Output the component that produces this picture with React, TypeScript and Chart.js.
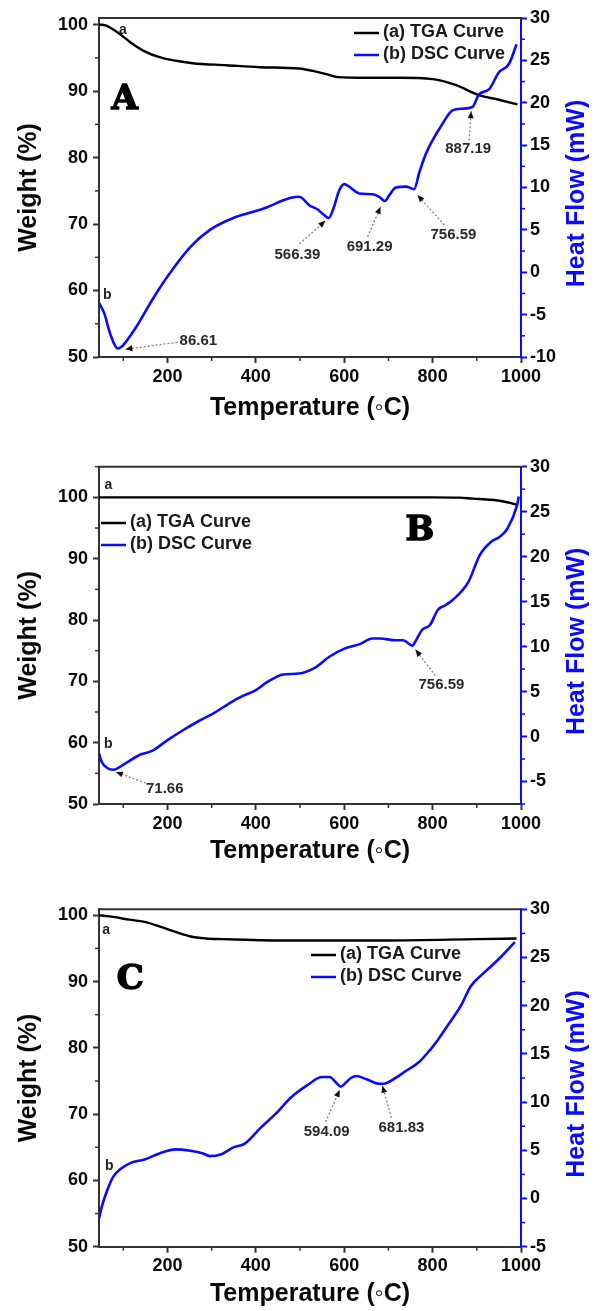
import React, { useEffect, useRef } from 'react';
import { Chart, registerables } from 'chart.js';

Chart.register(...registerables);

// ---------------- Panel A ----------------
const tgaTempA = [45, 60, 69, 92, 115, 145, 182, 257, 333, 408, 497, 532, 567, 585, 650, 725, 800, 853, 905, 950, 992];
const tgaWeightA = [100, 99.9, 99.6, 98.6, 97.4, 96.1, 95.1, 94.2, 93.9, 93.6, 93.4, 93.0, 92.4, 92.1, 92.0, 92.0, 91.8, 90.9, 89.4, 88.7, 88.0];
const dscTempA = [45, 58, 68, 78, 87, 96, 106, 130, 165, 200, 252, 296, 349, 392, 427, 462, 480, 498, 521, 540, 551, 565, 574, 589, 600, 611, 634, 664, 679, 692, 702, 717, 740, 758, 770, 785, 796, 822, 845, 867, 890, 905, 928, 950, 973, 990];
const dscFlowA = [-3.6, -5.0, -6.9, -8.3, -9.0, -8.8, -8.2, -6.4, -3.3, -0.5, 3.0, 5.0, 6.4, 7.1, 7.7, 8.5, 8.8, 8.9, 7.9, 7.4, 6.9, 6.4, 7.3, 9.7, 10.4, 10.1, 9.3, 9.2, 8.9, 8.4, 9.1, 10.0, 10.1, 9.8, 11.8, 14.0, 15.2, 17.5, 19.1, 19.3, 19.5, 21.0, 21.6, 23.6, 24.6, 26.9];
const peaksA = [86.61, 566.39, 691.29, 756.59, 887.19];

// ---------------- Panel B ----------------
const tgaTempB = [45, 200, 400, 600, 800, 860, 891, 934, 969, 991];
const tgaWeightB = [100, 100, 100, 100, 100, 99.95, 99.8, 99.6, 99.2, 98.8];
const dscTempB = [45, 51, 64, 77, 104, 139, 165, 200, 235, 270, 305, 340, 366, 401, 427, 462, 497, 532, 567, 602, 637, 663, 681, 716, 733, 755, 759, 777, 794, 812, 829, 846, 881, 907, 934, 952, 969, 991, 995];
const dscFlowB = [-1.85, -2.8, -3.5, -3.7, -3.0, -2.0, -1.6, -0.4, 0.7, 1.7, 2.6, 3.7, 4.4, 5.2, 6.1, 6.9, 7.0, 7.6, 8.9, 9.8, 10.3, 10.9, 10.9, 10.7, 10.7, 10.1, 10.4, 11.9, 12.4, 14.1, 14.6, 15.2, 17.2, 20.2, 21.7, 22.2, 23.1, 25.7, 26.7];
const peaksB = [71.66, 756.59];

// ---------------- Panel C ----------------
const tgaTempC = [45, 77, 113, 148, 183, 218, 252, 287, 322, 375, 450, 700, 900, 990];
const tgaWeightC = [100, 99.75, 99.35, 99.0, 98.3, 97.5, 96.8, 96.5, 96.4, 96.3, 96.2, 96.2, 96.4, 96.5];
const dscTempC = [45, 51, 64, 77, 95, 117, 148, 183, 218, 252, 279, 296, 322, 349, 375, 410, 445, 480, 515, 550, 567, 582, 592, 603, 615, 628, 649, 680, 689, 716, 742, 768, 794, 811, 838, 864, 886, 916, 951, 986];
const dscFlowC = [-2.1, -0.9, 0.9, 2.25, 3.1, 3.7, 4.05, 4.7, 5.1, 4.95, 4.7, 4.4, 4.6, 5.3, 5.7, 7.3, 8.8, 10.5, 11.7, 12.6, 12.6, 12.0, 11.6, 12.0, 12.5, 12.7, 12.4, 11.9, 11.9, 12.5, 13.3, 14.1, 15.4, 16.4, 18.2, 20.0, 22.0, 23.4, 24.9, 26.6];
const peaksC = [594.09, 681.83];

// ---------------- Shared labels / ticks ----------------
const seriesLabels = ['(a) TGA Curve', '(b) DSC Curve'];
const xMajor = [200, 400, 600, 800, 1000];
const xMinor = [100, 300, 500, 700, 900];
const weightMajor = [50, 60, 70, 80, 90, 100];
const weightMinor = [55, 65, 75, 85, 95];
const weightMinorB = [55, 65, 75, 85, 95, 105];
const flowMajorA = [-10, -5, 0, 5, 10, 15, 20, 25, 30];
const flowMajorBC = [-5, 0, 5, 10, 15, 20, 25, 30];
const flowMinorA = [-7.5, -2.5, 2.5, 7.5, 12.5, 17.5, 22.5, 27.5];
const flowMinorB = [-7.5, -2.5, 2.5, 7.5, 12.5, 17.5, 22.5, 27.5];
const flowMinorC = [-2.5, 2.5, 7.5, 12.5, 17.5, 22.5, 27.5];

// ---------------- Styling ----------------
const FONT = '"Liberation Sans", Arial, Helvetica, sans-serif';
const BLUE = '#0a0aff';
const AXIS = '#333333';
const TEXT = '#0a0a0a';

function xy(xs: number[], ys: number[]) {
  return xs.map((x, i) => ({ x, y: ys[i] }));
}

function interp(xs: number[], ys: number[], x: number) {
  for (let i = 1; i < xs.length; i++) {
    if (x <= xs[i]) {
      const t = (x - xs[i - 1]) / (xs[i] - xs[i - 1]);
      return ys[i - 1] + t * (ys[i] - ys[i - 1]);
    }
  }
  return ys[ys.length - 1];
}

type Panel = {
  key: string;
  top: number;
  height: number;
  plotTop: number;
  plotBottom: number;
  xMin: number;
  wMin: number;
  wMax: number;
  fMin: number;
  fMax: number;
  tgaT: number[];
  tgaW: number[];
  dscT: number[];
  dscV: number[];
  flowMajor: number[];
  flowMinor: number[];
  wMinor: number[];
  peaks: number[];
  peakOffsets: number[][];
  legend: { x: number; y: number };
  letter: { text: string; x: number; y: number };
  aLabel: { x: number; y: number };
  bLabel: { x: number; y: number };
  xTitlePad: number;
};

const panels: Panel[] = [
  {
    key: 'A', top: 0, height: 440, plotTop: 18, plotBottom: 357,
    xMin: 45, wMin: 50, wMax: 101, fMin: -10, fMax: 30,
    tgaT: tgaTempA, tgaW: tgaWeightA, dscT: dscTempA, dscV: dscFlowA,
    flowMajor: flowMajorA, flowMinor: flowMinorA, wMinor: weightMinor,
    peaks: peaksA,
    peakOffsets: [
      [8, 1, 60, -6, 81, -7],
      [-4, 4, -30, 27, -32, 38],
      [-4, 6, -17, 36, -15, 46],
      [4, 6, 31, 36, 40, 46],
      [0, 4, -2, 33, -3, 42],
    ],
    legend: { x: 354, y: 32 },
    letter: { text: 'A', x: 103, y: 88.7 },
    aLabel: { x: 99, y: 99.2 },
    bLabel: { x: 64, y: -2.7 },
    xTitlePad: 17,
  },
  {
    key: 'B', top: 440, height: 440, plotTop: 26.7, plotBottom: 364,
    xMin: 45, wMin: 50, wMax: 105, fMin: -7.5, fMax: 30,
    tgaT: tgaTempB, tgaW: tgaWeightB, dscT: dscTempB, dscV: dscFlowB,
    flowMajor: flowMajorBC, flowMinor: flowMinorB, wMinor: weightMinorB,
    peaks: peaksB,
    peakOffsets: [
      [5, 3, 35, 14, 54, 20],
      [2, 5, 22, 31, 28, 40],
    ],
    legend: { x: 101, y: 82 },
    letter: { text: 'B', x: 771, y: 94.5 },
    aLabel: { x: 66, y: 102 },
    bLabel: { x: 66, y: -0.8 },
    xTitlePad: 14,
  },
  {
    key: 'C', top: 880, height: 431, plotTop: 29.3, plotBottom: 366.7,
    xMin: 45, wMin: 50, wMax: 100.9, fMin: -5, fMax: 30,
    tgaT: tgaTempC, tgaW: tgaWeightC, dscT: dscTempC, dscV: dscFlowC,
    flowMajor: flowMajorBC, flowMinor: flowMinorC, wMinor: weightMinor,
    peaks: peaksC,
    peakOffsets: [
      [-2, 4, -16, 36, -15, 46],
      [2, 2, 11, 34, 21, 44],
    ],
    legend: { x: 311, y: 74 },
    letter: { text: 'C', x: 116, y: 90.2 },
    aLabel: { x: 61, y: 97.8 },
    bLabel: { x: 68, y: 3.4 },
    xTitlePad: 2,
  },
];

function overlay(p: Panel) {
  return {
    id: 'overlay' + p.key,
    afterDraw(chart: any) {
      const { ctx, chartArea: ca, scales } = chart;
      const sx = scales.x, sl = scales.yL, sr = scales.yR;
      const line = (x1: number, y1: number, x2: number, y2: number) => {
        ctx.beginPath(); ctx.moveTo(x1, y1); ctx.lineTo(x2, y2); ctx.stroke();
      };
      ctx.save();
      // top frame line
      ctx.strokeStyle = AXIS; ctx.lineWidth = 2;
      line(ca.left - 1, ca.top, ca.right, ca.top);
      // minor ticks
      ctx.lineWidth = 1.5;
      for (const v of xMinor) { const px = sx.getPixelForValue(v); line(px, ca.bottom, px, ca.bottom + 4); }
      for (const v of p.wMinor) {
        if (v > p.wMax) continue;
        const py = sl.getPixelForValue(v); line(ca.left - 4, py, ca.left, py);
      }
      ctx.strokeStyle = BLUE;
      for (const v of p.flowMinor) { const py = sr.getPixelForValue(v); line(ca.right, py, ca.right + 4, py); }

      // right axis title (reads bottom to top)
      ctx.save();
      ctx.translate(577, (ca.top + ca.bottom) / 2 + 6);
      ctx.rotate(-Math.PI / 2);
      ctx.font = 'bold 25px ' + FONT;
      ctx.fillStyle = BLUE; ctx.textAlign = 'center'; ctx.textBaseline = 'middle';
      ctx.fillText('Heat Flow (mW)', 0, 0);
      ctx.restore();

      // legend
      ctx.font = 'bold 18px ' + FONT;
      ctx.textAlign = 'left'; ctx.textBaseline = 'middle';
      const items: [string, string][] = [['#000000', seriesLabels[0]], [BLUE, seriesLabels[1]]];
      items.forEach(([c, t], i) => {
        const y = p.legend.y + i * 22;
        ctx.strokeStyle = c; ctx.lineWidth = 2.5;
        line(p.legend.x, y + 1, p.legend.x + 25, y + 1);
        ctx.fillStyle = '#1a1a1a';
        ctx.fillText(t, p.legend.x + 29, y);
      });

      // panel letter
      ctx.font = 'bold 34px "DejaVu Serif", serif';
      ctx.fillStyle = '#000'; ctx.strokeStyle = '#000'; ctx.lineWidth = 1.5;
      ctx.textAlign = 'center'; ctx.textBaseline = 'middle';
      const lx = sx.getPixelForValue(p.letter.x), ly = sl.getPixelForValue(p.letter.y);
      ctx.fillText(p.letter.text, lx, ly);
      ctx.strokeText(p.letter.text, lx, ly);

      // curve labels a / b
      ctx.font = 'bold 14px ' + FONT; ctx.fillStyle = '#222';
      ctx.fillText('a', sx.getPixelForValue(p.aLabel.x), sl.getPixelForValue(p.aLabel.y));
      ctx.fillText('b', sx.getPixelForValue(p.bLabel.x), sr.getPixelForValue(p.bLabel.y));

      // peak annotations
      ctx.font = 'bold 15px ' + FONT;
      p.peaks.forEach((t, i) => {
        const [tdx, tdy, ldx, ldy, txd, tyd] = p.peakOffsets[i];
        const ax = sx.getPixelForValue(t);
        const ay = sr.getPixelForValue(interp(p.dscT, p.dscV, t));
        const tipX = ax + tdx, tipY = ay + tdy, tailX = ax + ldx, tailY = ay + ldy;
        ctx.setLineDash([2, 2]); ctx.strokeStyle = '#808080'; ctx.lineWidth = 1.3;
        line(tailX, tailY, tipX, tipY);
        ctx.setLineDash([]);
        const ang = Math.atan2(tipY - tailY, tipX - tailX);
        const L = 7, W = 3;
        const bx = tipX - L * Math.cos(ang), by = tipY - L * Math.sin(ang);
        ctx.fillStyle = '#111';
        ctx.beginPath();
        ctx.moveTo(tipX, tipY);
        ctx.lineTo(bx + W * Math.sin(ang), by - W * Math.cos(ang));
        ctx.lineTo(bx - W * Math.sin(ang), by + W * Math.cos(ang));
        ctx.closePath(); ctx.fill();
        ctx.fillStyle = '#2a2a2a';
        ctx.textAlign = 'center'; ctx.textBaseline = 'middle';
        ctx.fillText(t.toFixed(2), ax + txd, ay + tyd);
      });
      ctx.restore();
    },
  };
}

function buildConfig(p: Panel): any {
  const tickFont = { family: FONT, size: 18, weight: 'bold' as const };
  const titleFont = { family: FONT, size: 25, weight: 'bold' as const };
  return {
    type: 'line',
    data: {
      datasets: [
        {
          label: seriesLabels[1], data: xy(p.dscT, p.dscV), yAxisID: 'yR',
          borderColor: BLUE, borderWidth: 2.6, pointRadius: 0,
          cubicInterpolationMode: 'monotone', order: 0, fill: false,
        },
        {
          label: seriesLabels[0], data: xy(p.tgaT, p.tgaW), yAxisID: 'yL',
          borderColor: '#000000', borderWidth: 2.4, pointRadius: 0,
          cubicInterpolationMode: 'monotone', order: 1, fill: false,
        },
      ],
    },
    options: {
      responsive: false,
      maintainAspectRatio: false,
      animation: false,
      events: [],
      layout: { padding: { top: p.plotTop, left: 0, right: 0, bottom: 0 } },
      plugins: { legend: { display: false }, tooltip: { enabled: false } },
      scales: {
        x: {
          type: 'linear', position: 'bottom', min: p.xMin, max: 1000,
          afterFit: (s: any) => { s.height = p.height - p.plotBottom; },
          afterBuildTicks: (s: any) => { s.ticks = xMajor.map((v) => ({ value: v })); },
          ticks: { callback: (v: any) => String(v), font: tickFont, color: TEXT, padding: 3, maxRotation: 0, autoSkip: false },
          grid: { drawOnChartArea: false, drawTicks: true, tickLength: 6, tickWidth: 2, tickColor: AXIS },
          border: { display: true, color: AXIS, width: 2 },
          title: { display: true, text: 'Temperature (◦C)', font: titleFont, color: TEXT, padding: { top: 0, bottom: p.xTitlePad } },
        },
        yL: {
          type: 'linear', position: 'left', min: p.wMin, max: p.wMax,
          afterFit: (s: any) => { s.width = 99; },
          afterBuildTicks: (s: any) => { s.ticks = weightMajor.map((v) => ({ value: v })); },
          ticks: { callback: (v: any) => String(v), font: tickFont, color: TEXT, padding: 5, autoSkip: false },
          grid: { drawOnChartArea: false, drawTicks: true, tickLength: 6, tickWidth: 2, tickColor: AXIS },
          border: { display: true, color: AXIS, width: 2 },
          title: { display: true, text: 'Weight (%)', font: titleFont, color: TEXT, padding: { top: 14, bottom: 0 } },
        },
        yR: {
          type: 'linear', position: 'right', min: p.fMin, max: p.fMax,
          afterFit: (s: any) => { s.width = 79; },
          afterBuildTicks: (s: any) => { s.ticks = p.flowMajor.map((v) => ({ value: v })); },
          ticks: { callback: (v: any) => String(v), font: tickFont, color: TEXT, padding: 3, autoSkip: false },
          grid: { drawOnChartArea: false, drawTicks: true, tickLength: 6, tickWidth: 2, tickColor: BLUE },
          border: { display: true, color: BLUE, width: 2 },
          title: { display: false },
        },
      },
    },
    plugins: [overlay(p)],
  };
}

function PanelChart({ p }: { p: Panel }) {
  const ref = useRef<HTMLCanvasElement>(null);
  useEffect(() => {
    if (!ref.current) return;
    const chart = new Chart(ref.current, buildConfig(p));
    return () => chart.destroy();
  }, [p]);
  return (
    <canvas
      ref={ref}
      width={600}
      height={p.height}
      style={{ position: 'absolute', left: 0, top: p.top, width: 600, height: p.height }}
    />
  );
}

export default function App() {
  return (
    <div style={{ position: 'absolute', left: 0, top: 0, width: 600, height: 1311, background: '#ffffff', overflow: 'hidden' }}>
      {panels.map((p) => (
        <PanelChart key={p.key} p={p} />
      ))}
    </div>
  );
}
